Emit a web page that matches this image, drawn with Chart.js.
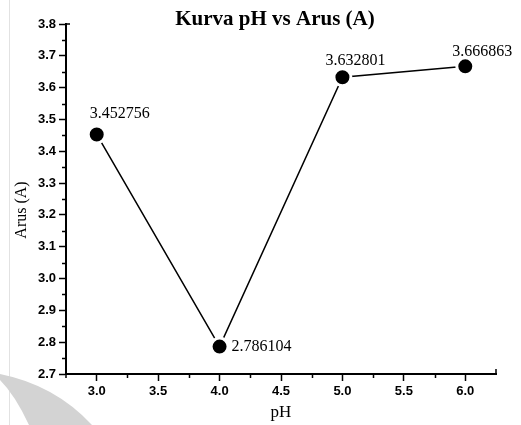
<!DOCTYPE html>
<html>
<head>
<meta charset="utf-8">
<script src="https://cdn.jsdelivr.net/npm/chart.js@4/dist/chart.umd.min.js"></script>
<style>
  html, body { margin: 0; padding: 0; background: #fff; }
  canvas { display: block; }
</style>
</head>
<body>
<canvas id="chart" width="521" height="425"></canvas>
<script>
// data
const phValues = [3.0, 4.0, 5.0, 6.0]
const arusValues = [3.452756, 2.786104, 3.632801, 3.666863]
const pointLabels = ['3.452756', '2.786104', '3.632801', '3.666863']
const xTickValues = [3.0, 3.5, 4.0, 4.5, 5.0, 5.5, 6.0]
const yTickValues = [2.7, 2.8, 2.9, 3.0, 3.1, 3.2, 3.3, 3.4, 3.5, 3.6, 3.7, 3.8]

// where each value label sits relative to its point (px)
const labelShift = [[-7, -21], [12, 0], [-17, -16], [-13, -15]]

const serif = '"Liberation Serif", "Times New Roman", serif'
const sans = '"Liberation Sans", Arial, sans-serif'

const ctx = document.querySelector('#chart').getContext('2d')

const pageDecor = {
    id: 'pageDecor',
    beforeDraw: (chart) => {
        const c = chart.ctx
        c.save()
        c.fillStyle = '#fff'
        c.fillRect(0, 0, chart.width, chart.height)
        // page edge line
        c.strokeStyle = '#e2e2e2'
        c.lineWidth = 1
        c.beginPath()
        c.moveTo(9.5, 0)
        c.lineTo(9.5, chart.height)
        c.stroke()
        // grey wedge in the corner
        c.fillStyle = '#d3d3d3'
        c.beginPath()
        c.moveTo(0, 374)
        c.quadraticCurveTo(55, 385, 92, 425)
        c.lineTo(29, 425)
        c.quadraticCurveTo(15, 395, 0, 380)
        c.closePath()
        c.fill()
        c.restore()
    }
}

const extras = {
    id: 'extras',
    afterDraw: (chart) => {
        const c = chart.ctx
        const xs = chart.scales.x
        const ys = chart.scales.y
        const area = chart.chartArea
        c.save()
        c.strokeStyle = '#000'
        c.lineWidth = 1.5

        // minor ticks halfway between the major ones
        c.beginPath()
        for (let i = 0; i < yTickValues.length - 1; i++) {
            const py = Math.round(ys.getPixelForValue((yTickValues[i] + yTickValues[i + 1]) / 2)) + 0.5
            c.moveTo(area.left, py)
            c.lineTo(area.left - 4, py)
        }
        for (let i = 0; i < xTickValues.length - 1; i++) {
            const px = Math.round(xs.getPixelForValue((xTickValues[i] + xTickValues[i + 1]) / 2)) + 0.5
            c.moveTo(px, area.bottom)
            c.lineTo(px, area.bottom + 4)
        }
        // axis end marks
        c.moveTo(area.left, area.bottom)
        c.lineTo(area.left, area.bottom + 4)
        c.moveTo(area.right, area.bottom)
        c.lineTo(area.right, area.bottom - 5)
        c.moveTo(area.left, area.top)
        c.lineTo(area.left + 4, area.top)
        c.stroke()

        // value labels
        c.fillStyle = '#000'
        c.font = '16px ' + serif
        c.textAlign = 'left'
        c.textBaseline = 'middle'
        for (let i = 0; i < phValues.length; i++) {
            const px = xs.getPixelForValue(phValues[i])
            const py = ys.getPixelForValue(arusValues[i])
            c.fillText(pointLabels[i], px + labelShift[i][0], py + labelShift[i][1])
        }

        // title
        c.textAlign = 'center'
        c.font = 'bold 21px ' + serif
        c.fillText('Kurva pH vs Arus (A)', 275, 20)

        // axis titles
        c.font = '17px ' + serif
        c.fillText('pH', 281, 413)
        c.translate(22, 210)
        c.rotate(-Math.PI / 2)
        c.font = '16px ' + serif
        c.fillText('Arus (A)', 0, 0)
        c.restore()
    }
}

const data = {
    datasets: [{
        data: phValues.map((v, i) => ({x: v, y: arusValues[i]})),
        showLine: true,
        borderColor: '#000',
        borderWidth: 1.5,
        pointRadius: 8.5,
        pointBackgroundColor: '#000',
        pointBorderColor: '#fff',
        pointBorderWidth: 3
    }]
}

const axisGrid = {
    display: true,
    drawOnChartArea: false,
    drawTicks: true,
    tickLength: 7,
    tickColor: '#000',
    tickWidth: 1.5
}

const options = {
    responsive: false,
    animation: false,
    devicePixelRatio: 1,
    layout: {
        padding: {left: 0, top: 24, right: 25, bottom: 0}
    },
    plugins: {
        legend: {display: false},
        title: {display: false},
        tooltip: {enabled: false}
    },
    scales: {
        x: {
            type: 'linear',
            min: 2.75,
            max: 6.25,
            afterBuildTicks: (s) => { s.ticks = xTickValues.map(v => ({value: v})) },
            afterFit: (s) => { s.height = 51 },
            border: {display: true, color: '#000', width: 2},
            grid: axisGrid,
            ticks: {
                color: '#000',
                padding: 3,
                autoSkip: false,
                maxRotation: 0,
                font: {family: sans, size: 13, weight: 'bold'},
                callback: (v) => Number(v).toFixed(1)
            }
        },
        y: {
            type: 'linear',
            min: 2.7,
            max: 3.8,
            afterBuildTicks: (s) => { s.ticks = yTickValues.map(v => ({value: v})) },
            afterFit: (s) => { s.width = 66 },
            border: {display: true, color: '#000', width: 2},
            grid: axisGrid,
            ticks: {
                color: '#000',
                padding: 3,
                autoSkip: false,
                font: {family: sans, size: 13, weight: 'bold'},
                callback: (v) => Number(v).toFixed(1)
            }
        }
    }
}

const config = {
    type: 'scatter',
    data,
    options,
    plugins: [pageDecor, extras]
}

let myChart = new Chart(ctx, config)
</script>
</body>
</html>
